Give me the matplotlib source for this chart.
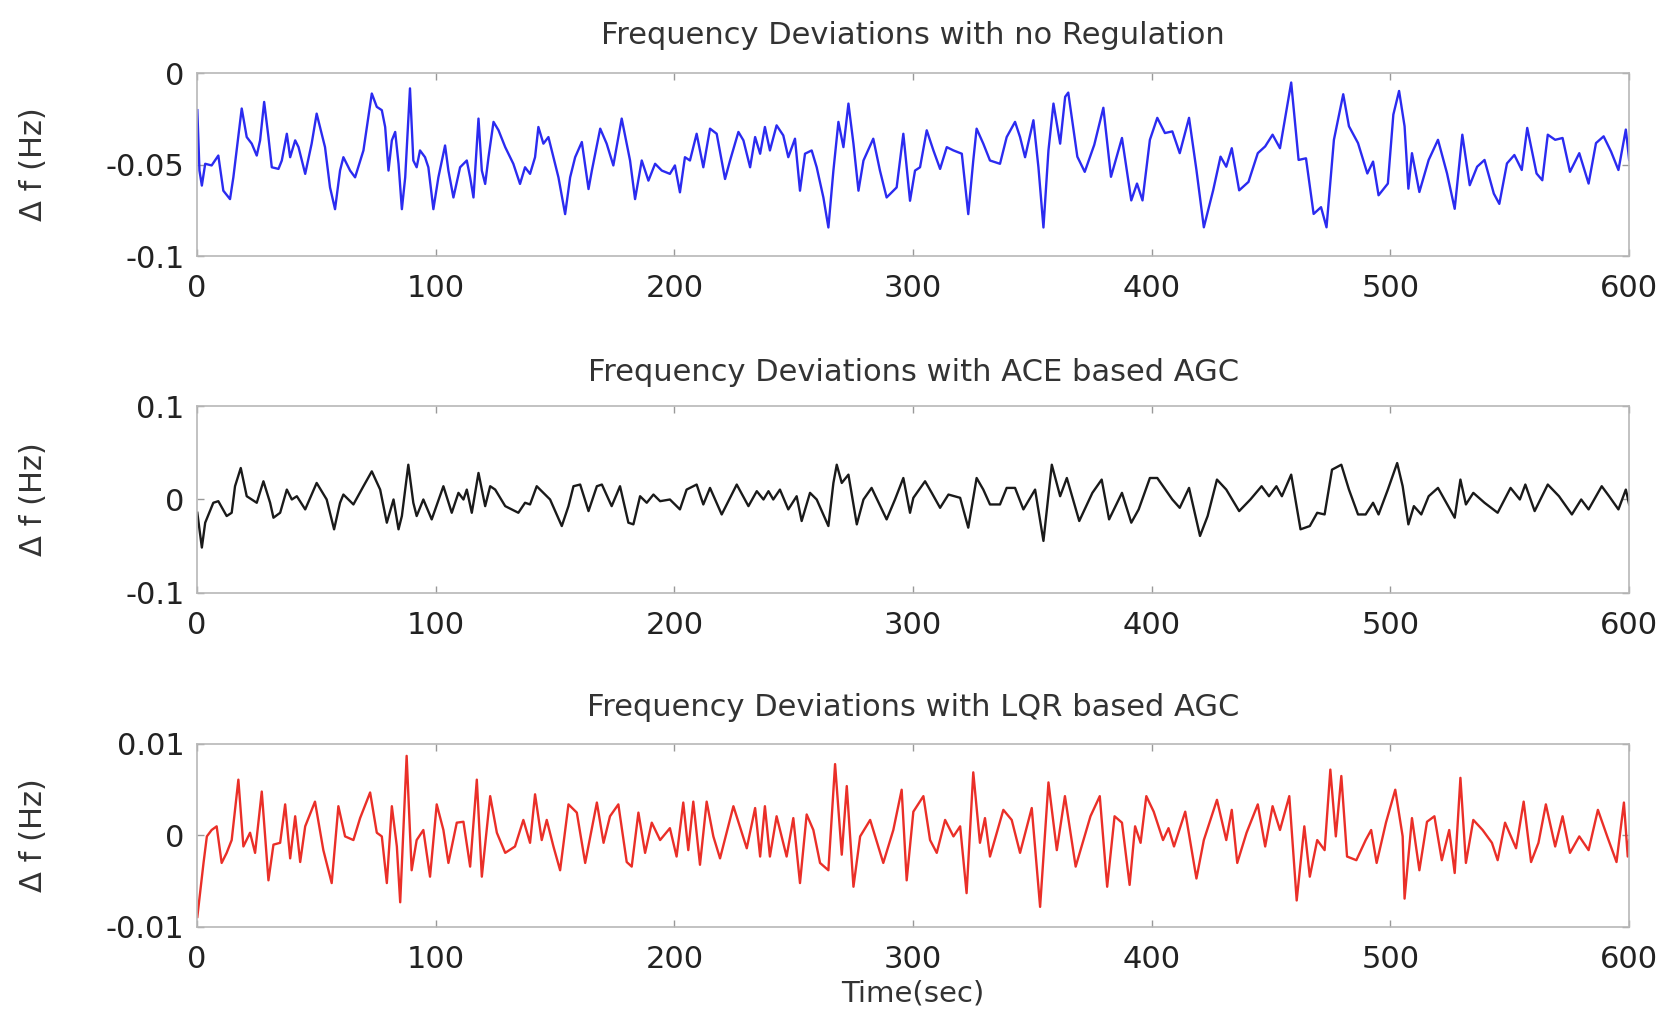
import matplotlib
matplotlib.use("Agg")
from matplotlib import pyplot as plt


# --- values (time in s, deviation in Hz) ---

t_noreg = [0.1, 1.0, 2.0, 3.4, 6.1, 8.9, 11.0, 13.8, 15.2, 18.7, 20.8, 22.9, 25.0, 26.4, 28.1, 29.9,
           31.3, 34.1, 35.5, 37.6, 39.0, 41.1, 42.5, 45.3, 48.0, 50.1, 51.5, 53.6, 55.7, 57.8, 59.9,
           61.3, 64.1, 66.2, 69.7, 73.2, 75.3, 77.4, 78.8, 80.2, 81.6, 83.0, 84.4, 85.8, 87.2, 89.2,
           90.6, 92.0, 93.4, 95.5, 96.9, 99.0, 101.1, 103.9, 105.3, 107.4, 110.2, 113.0, 114.4, 115.8,
           117.9, 119.3, 120.7, 122.1, 124.2, 126.3, 129.1, 132.5, 135.3, 137.4, 139.5, 141.6, 143.0,
           145.1, 147.2, 149.3, 151.4, 154.2, 156.3, 158.4, 161.2, 164.0, 165.4, 168.9, 171.6, 174.4,
           177.9, 181.4, 183.5, 186.3, 189.1, 191.9, 194.7, 198.1, 200.2, 202.3, 204.4, 206.5, 209.3,
           212.1, 214.9, 217.7, 221.2, 223.3, 226.8, 228.9, 231.7, 233.8, 235.9, 237.9, 240.0, 242.8,
           245.6, 247.7, 250.5, 252.6, 254.7, 257.5, 259.6, 262.4, 264.5, 266.6, 268.7, 270.8, 272.9,
           275.0, 277.1, 279.2, 283.3, 286.1, 288.9, 293.1, 295.9, 298.7, 300.8, 302.9, 305.7, 308.5,
           311.3, 314.1, 316.9, 320.4, 323.1, 325.2, 326.6, 329.4, 332.2, 336.4, 339.2, 342.7, 344.8,
           346.9, 350.4, 352.5, 354.6, 356.7, 358.8, 361.6, 363.7, 365.0, 368.8, 371.9, 375.9, 379.7,
           382.9, 387.5, 391.4, 393.8, 396.1, 399.2, 402.3, 405.5, 408.6, 411.7, 415.6, 418.7, 421.8,
           425.7, 428.8, 431.2, 433.5, 436.6, 440.5, 444.4, 447.5, 450.6, 453.7, 458.4, 461.5, 464.6,
           467.8, 470.9, 473.2, 476.3, 480.2, 482.6, 486.4, 490.3, 492.7, 495.0, 498.9, 501.2, 503.6,
           505.9, 507.5, 509.0, 512.1, 516.0, 519.9, 523.7, 526.9, 530.1, 533.2, 536.3, 539.4, 543.3,
           545.6, 548.8, 551.9, 555.0, 557.3, 561.2, 563.6, 565.9, 569.0, 572.1, 575.2, 579.1, 583.0,
           586.1, 589.3, 592.4, 595.5, 598.6, 600.0]
df_noreg = [-0.0203, -0.0533, -0.0615, -0.0496, -0.0505, -0.0451, -0.0643, -0.0689, -0.0570, -0.0194,
            -0.0350, -0.0386, -0.0451, -0.0368, -0.0158, -0.0350, -0.0515, -0.0524, -0.0478, -0.0332,
            -0.0460, -0.0368, -0.0405, -0.0551, -0.0386, -0.0222, -0.0295, -0.0405, -0.0625, -0.0744,
            -0.0533, -0.0460, -0.0533, -0.0570, -0.0423, -0.0112, -0.0185, -0.0203, -0.0295, -0.0533,
            -0.0368, -0.0322, -0.0496, -0.0744, -0.0570, -0.0084, -0.0478, -0.0515, -0.0423, -0.0460,
            -0.0515, -0.0744, -0.0570, -0.0396, -0.0533, -0.0680, -0.0515, -0.0478, -0.0570, -0.0680,
            -0.0249, -0.0533, -0.0606, -0.0460, -0.0267, -0.0313, -0.0405, -0.0496, -0.0606, -0.0515,
            -0.0551, -0.0460, -0.0295, -0.0386, -0.0350, -0.0460, -0.0570, -0.0771, -0.0570, -0.0460,
            -0.0377, -0.0634, -0.0533, -0.0304, -0.0386, -0.0505, -0.0249, -0.0478, -0.0689, -0.0478,
            -0.0588, -0.0496, -0.0533, -0.0551, -0.0505, -0.0652, -0.0460, -0.0478, -0.0332, -0.0515,
            -0.0304, -0.0332, -0.0579, -0.0478, -0.0322, -0.0368, -0.0515, -0.0350, -0.0441, -0.0295,
            -0.0423, -0.0286, -0.0341, -0.0460, -0.0359, -0.0643, -0.0441, -0.0423, -0.0515, -0.0680,
            -0.0844, -0.0533, -0.0267, -0.0405, -0.0167, -0.0386, -0.0643, -0.0478, -0.0359, -0.0533,
            -0.0680, -0.0625, -0.0332, -0.0698, -0.0533, -0.0515, -0.0313, -0.0423, -0.0524, -0.0405,
            -0.0423, -0.0441, -0.0771, -0.0478, -0.0304, -0.0386, -0.0478, -0.0496, -0.0350, -0.0267,
            -0.0350, -0.0460, -0.0258, -0.0515, -0.0844, -0.0423, -0.0167, -0.0386, -0.0130, -0.0107,
            -0.0457, -0.0540, -0.0392, -0.0190, -0.0567, -0.0355, -0.0696, -0.0604, -0.0696, -0.0365,
            -0.0245, -0.0328, -0.0319, -0.0438, -0.0245, -0.0530, -0.0843, -0.0641, -0.0457, -0.0512,
            -0.0411, -0.0641, -0.0595, -0.0438, -0.0401, -0.0337, -0.0411, -0.0052, -0.0475, -0.0466,
            -0.0770, -0.0733, -0.0843, -0.0365, -0.0116, -0.0291, -0.0383, -0.0549, -0.0484, -0.0668,
            -0.0604, -0.0227, -0.0098, -0.0291, -0.0632, -0.0438, -0.0650, -0.0475, -0.0365, -0.0549,
            -0.0742, -0.0337, -0.0613, -0.0512, -0.0475, -0.0659, -0.0715, -0.0494, -0.0448, -0.0530,
            -0.0300, -0.0549, -0.0586, -0.0337, -0.0365, -0.0355, -0.0540, -0.0438, -0.0604, -0.0383,
            -0.0346, -0.0429, -0.0530, -0.0309, -0.0475]

t_ace = [0.1, 2.0, 3.4, 6.8, 8.9, 12.4, 14.5, 15.9, 18.3, 20.8, 25.0, 27.8, 30.6, 32.0, 34.8, 37.6,
         39.7, 41.8, 45.3, 50.1, 54.3, 57.4, 59.9, 61.3, 65.5, 69.7, 73.2, 76.7, 79.5, 82.3, 84.4,
         85.8, 88.5, 90.6, 92.0, 94.8, 98.3, 103.2, 106.7, 109.5, 111.6, 113.0, 115.1, 117.9, 120.7,
         122.8, 124.9, 129.1, 134.6, 137.4, 139.5, 142.3, 145.1, 147.9, 152.8, 155.6, 157.7, 160.5,
         164.0, 167.5, 169.6, 173.7, 177.2, 180.7, 182.8, 185.6, 188.4, 191.2, 194.0, 198.1, 202.3,
         205.1, 209.3, 212.1, 214.9, 219.8, 226.1, 231.0, 234.5, 237.3, 239.4, 241.4, 244.2, 247.7,
         251.2, 253.3, 256.8, 259.6, 264.5, 266.6, 268.0, 270.1, 272.9, 276.4, 279.2, 282.6, 288.9,
         292.4, 295.9, 298.7, 300.1, 305.0, 307.8, 311.3, 314.8, 319.7, 323.1, 326.6, 329.4, 332.2,
         336.4, 339.2, 342.7, 346.2, 351.1, 354.6, 358.1, 361.6, 364.4, 369.6, 375.1, 379.0, 382.1,
         387.5, 391.4, 394.5, 399.2, 402.3, 408.6, 411.7, 415.6, 420.2, 423.4, 427.3, 431.2, 436.6,
         441.3, 446.0, 449.1, 452.2, 454.5, 458.4, 462.3, 466.2, 469.3, 472.4, 475.5, 479.4, 482.6,
         486.4, 489.6, 492.7, 495.0, 498.9, 502.8, 505.1, 507.5, 509.8, 512.9, 516.0, 519.9, 523.8,
         526.9, 529.3, 531.6, 534.7, 539.4, 544.9, 550.3, 554.2, 556.5, 560.4, 565.9, 570.6, 576.0,
         579.9, 583.0, 588.5, 591.6, 595.5, 598.6, 600.0]
df_ace = [-0.0142, -0.0514, -0.0248, -0.0035, -0.0018, -0.0177, -0.0142, 0.0142, 0.0337, 0.0035,
          -0.0035, 0.0195, -0.0035, -0.0195, -0.0142, 0.0106, 0.0, 0.0035, -0.0106, 0.0177, 0.0,
          -0.0319, -0.0035, 0.0053, -0.0053, 0.0142, 0.0301, 0.0106, -0.0248, 0.0, -0.0319, -0.0177,
          0.0372, -0.0035, -0.0177, 0.0, -0.0213, 0.0142, -0.0142, 0.0071, 0.0, 0.0106, -0.0142,
          0.0284, -0.0071, 0.0142, 0.0106, -0.0071, -0.0142, -0.0035, -0.0053, 0.0142, 0.0071, 0.0,
          -0.0284, -0.0071, 0.0142, 0.0160, -0.0124, 0.0142, 0.0160, -0.0071, 0.0142, -0.0248,
          -0.0266, 0.0035, -0.0035, 0.0053, -0.0018, 0.0, -0.0106, 0.0106, 0.0160, -0.0053, 0.0124,
          -0.0160, 0.0160, -0.0071, 0.0089, 0.0, 0.0089, 0.0, 0.0106, -0.0106, 0.0035, -0.0230,
          0.0071, 0.0, -0.0284, 0.0177, 0.0372, 0.0177, 0.0266, -0.0266, 0.0, 0.0124, -0.0213, 0.0,
          0.0230, -0.0142, 0.0018, 0.0195, 0.0071, -0.0089, 0.0053, 0.0018, -0.0301, 0.0230, 0.0106,
          -0.0053, -0.0053, 0.0124, 0.0124, -0.0106, 0.0106, -0.0443, 0.0372, 0.0035, 0.0230,
          -0.0230, 0.0071, 0.0213, -0.0213, 0.0071, -0.0248, -0.0106, 0.0230, 0.0230, 0.0, -0.0089,
          0.0124, -0.0390, -0.0177, 0.0213, 0.0106, -0.0124, 0.0, 0.0142, 0.0035, 0.0142, 0.0035,
          0.0266, -0.0319, -0.0284, -0.0142, -0.0160, 0.0319, 0.0372, 0.0106, -0.0160, -0.0160,
          -0.0035, -0.0160, 0.0106, 0.0390, 0.0142, -0.0266, -0.0071, -0.0160, 0.0035, 0.0124,
          -0.0053, -0.0195, 0.0213, -0.0053, 0.0071, -0.0035, -0.0142, 0.0124, 0.0, 0.0160, -0.0124,
          0.0160, 0.0035, -0.0160, 0.0, -0.0106, 0.0142, 0.0035, -0.0106, 0.0106, -0.0053]

t_lqr = [0.1, 2.7, 4.1, 6.1, 8.2, 10.3, 12.4, 14.5, 17.3, 19.4, 22.2, 24.3, 27.1, 29.9, 32.0, 34.8,
         36.9, 39.0, 41.1, 43.2, 45.3, 49.4, 52.9, 56.4, 59.2, 62.0, 65.5, 68.3, 72.5, 75.3, 77.4,
         79.5, 81.6, 83.7, 85.1, 87.8, 89.9, 92.0, 94.8, 97.6, 100.4, 103.2, 105.3, 108.8, 111.6,
         114.4, 117.2, 119.3, 122.8, 125.6, 129.1, 133.2, 136.7, 139.5, 141.6, 144.4, 146.5, 149.3,
         152.1, 155.6, 159.1, 162.6, 167.5, 170.3, 173.0, 176.5, 180.0, 182.1, 184.9, 187.7, 190.5,
         194.0, 198.1, 200.9, 203.7, 205.8, 207.9, 210.7, 213.5, 216.3, 219.1, 224.7, 230.3, 233.8,
         235.9, 237.9, 240.0, 242.8, 247.0, 249.8, 252.6, 255.4, 258.2, 261.0, 264.5, 267.3, 270.1,
         272.2, 275.0, 277.8, 282.0, 287.5, 291.7, 295.2, 297.3, 300.1, 304.3, 307.1, 309.9, 313.4,
         316.9, 319.7, 322.4, 325.2, 328.0, 330.1, 332.2, 337.8, 341.3, 344.8, 349.7, 353.2, 356.7,
         360.2, 363.6, 368.1, 374.3, 378.2, 381.3, 384.4, 387.5, 390.7, 393.0, 395.3, 397.7, 400.8,
         404.7, 407.0, 409.3, 414.0, 418.7, 421.8, 427.3, 431.2, 433.5, 435.8, 439.7, 444.4, 447.5,
         450.6, 453.7, 457.6, 460.7, 463.9, 466.2, 469.3, 472.4, 474.8, 477.1, 479.4, 481.8, 485.7,
         489.6, 491.9, 494.2, 498.1, 502.0, 505.1, 505.9, 509.0, 512.1, 515.3, 518.4, 521.5, 524.6,
         526.9, 529.3, 531.6, 534.7, 538.6, 542.5, 544.9, 548.0, 552.6, 555.8, 558.9, 562.0, 565.1,
         569.0, 572.1, 575.2, 579.1, 583.0, 586.9, 590.8, 594.7, 597.8, 599.4, 600.0]
df_lqr = [-0.0089, -0.0030, -0.0001, 0.0006, 0.0010, -0.0030, -0.0019, -0.0005, 0.0061, -0.0012,
          0.0003, -0.0019, 0.0048, -0.0049, -0.0010, -0.0008, 0.0034, -0.0025, 0.0021, -0.0029,
          0.0010, 0.0037, -0.0016, -0.0052, 0.0032, -0.0001, -0.0005, 0.0019, 0.0047, 0.0003,
          -0.0001, -0.0052, 0.0032, -0.0012, -0.0073, 0.0087, -0.0038, -0.0005, 0.0006, -0.0045,
          0.0034, 0.0006, -0.0030, 0.0014, 0.0015, -0.0034, 0.0061, -0.0045, 0.0043, 0.0003,
          -0.0019, -0.0012, 0.0017, -0.0008, 0.0045, -0.0005, 0.0017, -0.0012, -0.0038, 0.0034,
          0.0025, -0.0030, 0.0036, -0.0008, 0.0021, 0.0034, -0.0029, -0.0034, 0.0025, -0.0019,
          0.0014, -0.0005, 0.0008, -0.0023, 0.0036, -0.0016, 0.0037, -0.0032, 0.0037, -0.0001,
          -0.0025, 0.0032, -0.0014, 0.0030, -0.0023, 0.0032, -0.0023, 0.0021, -0.0023, 0.0019,
          -0.0052, 0.0023, 0.0006, -0.0030, -0.0038, 0.0078, -0.0021, 0.0054, -0.0056, -0.0001,
          0.0017, -0.0030, 0.0006, 0.0050, -0.0049, 0.0026, 0.0043, -0.0005, -0.0019, 0.0017,
          -0.0001, 0.0010, -0.0063, 0.0069, -0.0008, 0.0019, -0.0023, 0.0028, 0.0017, -0.0019,
          0.0030, -0.0078, 0.0058, -0.0016, 0.0043, -0.0034, 0.0021, 0.0043, -0.0056, 0.0021,
          0.0014, -0.0054, 0.0010, -0.0008, 0.0043, 0.0026, -0.0005, 0.0008, -0.0012, 0.0026,
          -0.0047, -0.0005, 0.0039, -0.0005, 0.0028, -0.0030, 0.0003, 0.0034, -0.0012, 0.0032,
          0.0006, 0.0043, -0.0071, 0.0010, -0.0045, -0.0005, -0.0016, 0.0072, -0.0001, 0.0065,
          -0.0023, -0.0027, -0.0005, 0.0006, -0.0030, 0.0014, 0.0050, -0.0001, -0.0069, 0.0019,
          -0.0038, 0.0015, 0.0021, -0.0027, 0.0006, -0.0041, 0.0063, -0.0030, 0.0017, 0.0006,
          -0.0008, -0.0027, 0.0014, -0.0014, 0.0037, -0.0029, -0.0008, 0.0034, -0.0012, 0.0021,
          -0.0019, -0.0001, -0.0016, 0.0028, -0.0001, -0.0029, 0.0036, -0.0023, -0.0005]

titles = ["Frequency Deviations with no Regulation",
          "Frequency Deviations with ACE based AGC",
          "Frequency Deviations with LQR based AGC"]
ylims = [(-0.1, 0.0), (-0.1, 0.1), (-0.01, 0.01)]
yticks = [[-0.1, -0.05, 0], [-0.1, 0, 0.1], [-0.01, 0, 0.01]]
ytick_labels = [["-0.1", "-0.05", "0"], ["-0.1", "0", "0.1"], ["-0.01", "0", "0.01"]]
xticks = [0, 100, 200, 300, 400, 500, 600]
colors = ["#2b2bf0", "#1a1a1a", "#ea2f28"]


fig = plt.figure(figsize=(16.73, 10.14), dpi=100)
plt.rcParams['font.family'] = ['DejaVu Sans']

boxes = [[0.1178, 0.7475, 0.856, 0.1805],
         [0.1178, 0.4152, 0.856, 0.1844],
         [0.1178, 0.0858, 0.856, 0.1805]]
series = [(t_noreg, df_noreg), (t_ace, df_ace), (t_lqr, df_lqr)]
title_pads = [21, 18, 20]

for i in range(3):
	ax = fig.add_axes(boxes[i])
	t, df = series[i]
	ax.plot(t, df, color=colors[i], lw=1.7)
	ax.set_xlim(0, 600)
	ax.set_ylim(*ylims[i])
	ax.set_xticks(xticks)
	ax.set_xticklabels([str(x) for x in xticks])
	ax.set_yticks(yticks[i])
	ax.set_yticklabels(ytick_labels[i])
	ax.tick_params(direction='in', length=5, width=1, color='#999999',
	               top=True, right=True, labelsize=22, labelcolor='#222222')
	ax.tick_params(axis='y', pad=9)
	ax.tick_params(axis='x', pad=13)
	for s in ax.spines.values():
		s.set_color('#b8b8b8')
		s.set_linewidth(1.2)
	ax.set_title(titles[i], fontsize=22, color='#333333', pad=title_pads[i])
	ax.set_ylabel("\u0394 f (Hz)", fontsize=22, color='#333333')
	ax.yaxis.set_label_coords(-0.104, 0.5)
	if i == 2:
		ax.set_xlabel("Time(sec)", fontsize=21, color='#333333', labelpad=4)

plt.savefig("out.png", dpi=100)
